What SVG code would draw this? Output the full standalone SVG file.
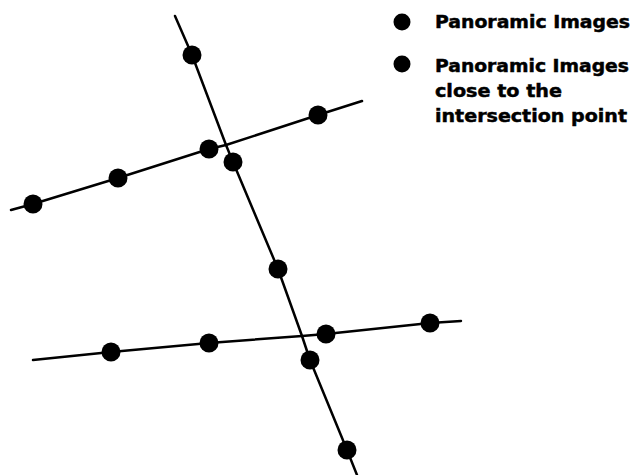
<svg xmlns="http://www.w3.org/2000/svg" width="635" height="475" viewBox="0 0 635 475">
<style>
.ln{fill:none;stroke:#000;stroke-width:2.5;stroke-linecap:round;stroke-linejoin:round}
.dot{fill:#000}
.lbl{font-family:"DejaVu Sans","Liberation Sans",Arial,sans-serif;font-weight:bold;font-size:18.5px;fill:#000;stroke:#000;stroke-width:0.5}
</style>
<rect width="635" height="475" fill="#fff"/>
<g id="connectors">
<polyline class="ln" points="175,16 192,55 226,145 233,162 278,269 302,336 310,360 347,450 357,475"/>
<polyline class="ln" points="11,210 33,204 118,178 209,149 226,145 318,115 362,101"/>
<polyline class="ln" points="33,360 111,352 209,343 302,336 326,334 430,323 461,321"/>
</g>
<g id="nodes-vertical">
<circle class="dot" cx="192" cy="55" r="9.5"/>
<circle class="dot" cx="233" cy="162" r="9.5"/>
<circle class="dot" cx="278" cy="269" r="9.5"/>
<circle class="dot" cx="310" cy="360" r="9.5"/>
<circle class="dot" cx="347" cy="450" r="9.5"/>
</g>
<g id="nodes-upper">
<circle class="dot" cx="33" cy="204" r="9.5"/>
<circle class="dot" cx="118" cy="178" r="9.5"/>
<circle class="dot" cx="209" cy="149" r="9.5"/>
<circle class="dot" cx="318" cy="115" r="9.5"/>
</g>
<g id="nodes-lower">
<circle class="dot" cx="111" cy="352" r="9.5"/>
<circle class="dot" cx="209" cy="343" r="9.5"/>
<circle class="dot" cx="326" cy="334" r="9.5"/>
<circle class="dot" cx="430" cy="323" r="9.5"/>
</g>
<g id="legend-1">
<circle class="dot" cx="402" cy="22" r="8.5"/>
<text class="lbl" x="435" y="28" textLength="195" lengthAdjust="spacingAndGlyphs">Panoramic Images</text>
</g>
<g id="legend-2">
<circle class="dot" cx="402" cy="64" r="8.5"/>
<text class="lbl" x="435" y="72" textLength="194" lengthAdjust="spacingAndGlyphs">Panoramic Images</text>
<text class="lbl" x="435" y="97" textLength="127" lengthAdjust="spacingAndGlyphs">close to the</text>
<text class="lbl" x="435" y="122" textLength="192" lengthAdjust="spacingAndGlyphs">intersection point</text>
</g>
</svg>
